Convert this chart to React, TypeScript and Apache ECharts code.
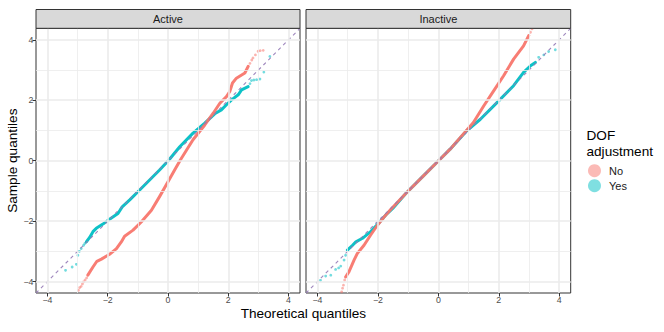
import React, { useEffect, useRef } from 'react';
import * as echarts from 'echarts';

// ---- data ----
const facets = ['Active', 'Inactive'];
const groups = ['No', 'Yes'];
const groupColors = ['#F8766D', '#00BFC4'];
const axisRange = [-4.38, 4.38];
const majorTicks = [-4, -2, 0, 2, 4];
const minorTicks = [-3, -1, 1, 3];
const refLine = [[-4.38, -4.38], [4.38, 4.38]];

// Active, No (red)
const activeNoBody = [
  [-2.66, -3.79], [-2.49, -3.52], [-2.36, -3.33], [-2.21, -3.26], [-1.94, -3.1], [-1.71, -2.91],
  [-1.55, -2.69], [-1.44, -2.5], [-1.16, -2.3], [-0.88, -2.02], [-0.55, -1.64], [-0.28, -1.19],
  [0, -0.7], [0.22, -0.31], [0.41, 0.02], [0.83, 0.69], [1.22, 1.18], [1.5, 1.57], [1.72, 1.9],
  [1.94, 2.12], [2.05, 2.29], [2.14, 2.57], [2.27, 2.73], [2.55, 2.9], [2.66, 3.12],
];
const activeNoTail = [
  [-2.97, -4.29], [-2.93, -4.2], [-2.88, -4.16], [-2.84, -4.08], [-2.8, -4.01], [-2.75, -3.95],
  [-2.7, -3.88], [2.72, 3.22], [2.78, 3.33], [2.82, 3.4], [2.9, 3.5], [2.99, 3.62], [3.06, 3.64], [3.16, 3.65],
];
// Active, Yes (cyan)
const activeYesBody = [
  [-2.71, -2.69], [-2.6, -2.54], [-2.49, -2.35], [-2.38, -2.24], [-2.16, -2.1], [-1.94, -1.94],
  [-1.66, -1.75], [-1.52, -1.53], [-1.27, -1.3], [-0.94, -0.97], [-0.61, -0.64], [-0.28, -0.31],
  [0.03, 0.02], [0.39, 0.46], [0.83, 0.91], [1.22, 1.24], [1.55, 1.55], [1.77, 1.68], [1.94, 1.85],
  [2.11, 2.01], [2.33, 2.18], [2.44, 2.34], [2.66, 2.45],
];
const activeYesTail = [
  [-3.4, -3.63], [-3.18, -3.52], [-3.04, -3.43], [-2.99, -3.13], [-2.94, -3.0], [-2.88, -2.91],
  [-2.8, -2.8], [-2.76, -2.74], [2.72, 2.55], [2.77, 2.65], [2.85, 2.67], [2.94, 2.68], [3.05, 2.7],
  [3.18, 2.93], [3.38, 3.45],
];
// Inactive, No (red)
const inactiveNoBody = [
  [-3.07, -3.85], [-2.96, -3.68], [-2.79, -3.29], [-2.68, -3.07], [-2.46, -2.8], [-2.24, -2.46],
  [-2.01, -2.13], [-1.79, -1.86], [-1.57, -1.61], [-1.07, -1.08], [-0.52, -0.53], [0.03, 0.02],
  [0.39, 0.38], [0.83, 0.88], [1.16, 1.26], [1.5, 1.81], [1.83, 2.31], [2.16, 2.81], [2.49, 3.36],
  [2.82, 3.8], [2.99, 4.14],
];
const inactiveNoTail = [
  [-3.2, -4.34], [-3.17, -4.22], [-3.14, -4.12], [-3.1, -3.95], [3.05, 4.25], [3.1, 4.36],
];
// Inactive, Yes (cyan)
const inactiveYesBody = [
  [-3.01, -2.96], [-2.84, -2.8], [-2.73, -2.69], [-2.51, -2.57], [-2.24, -2.35], [-2.01, -2.11],
  [-1.74, -1.8], [-1.51, -1.58], [-1.07, -1.08], [-0.52, -0.53], [0.03, 0.02], [0.39, 0.38],
  [0.94, 0.99], [1.39, 1.37], [1.94, 1.92], [2.49, 2.48], [2.82, 2.92], [3.05, 3.14], [3.21, 3.25],
];
const inactiveYesTail = [
  [-3.9, -3.96], [-3.73, -3.82], [-3.56, -3.79], [-3.4, -3.6], [-3.3, -3.55], [-3.23, -3.49],
  [-3.12, -3.29], [-3.07, -3.13], [3.32, 3.42], [3.49, 3.5], [3.65, 3.61], [3.87, 3.67],
];

const bodies = [
  [activeNoBody, activeYesBody],
  [inactiveNoBody, inactiveYesBody],
];
const tails = [
  [activeNoTail, activeYesTail],
  [inactiveNoTail, inactiveYesTail],
];

// ---- layout ----
const FONT = '"Liberation Sans", Arial, Helvetica, sans-serif';
const panelBoxes = [
  { left: 36, top: 28.3, width: 264, height: 264.7 },
  { left: 306, top: 28.3, width: 264.7, height: 264.7 },
];
const STRIP_TOP = 9.5;

const fmt = (v: number) => (v < 0 ? '\u2212' + Math.abs(v) : String(v));

export default function App() {
  const ref = useRef<HTMLDivElement>(null);
  useEffect(() => {
    if (!ref.current) return;
    const chart = echarts.init(ref.current, null, { renderer: 'svg' });

    const grid: any[] = [];
    const xAxis: any[] = [];
    const yAxis: any[] = [];
    panelBoxes.forEach((b, i) => {
      grid.push({ ...b, show: true, borderColor: '#333333', borderWidth: 1, backgroundColor: '#ffffff' });
      xAxis.push({
        type: 'value', gridIndex: i, min: axisRange[0], max: axisRange[1], position: 'bottom',
        axisLine: { show: false, onZero: false },
        axisTick: { show: true, length: 3.5, customValues: majorTicks, lineStyle: { color: '#333333', width: 1 } },
        axisLabel: { show: true, customValues: majorTicks, formatter: fmt, color: '#4d4d4d', fontSize: 8.8, fontFamily: FONT, margin: 2.5 },
        splitLine: { show: false },
      });
      yAxis.push({
        type: 'value', gridIndex: i, min: axisRange[0], max: axisRange[1], position: 'left',
        axisLine: { show: false, onZero: false },
        axisTick: { show: i === 0, length: 3.5, customValues: majorTicks, lineStyle: { color: '#333333', width: 1 } },
        axisLabel: { show: i === 0, customValues: majorTicks, formatter: fmt, color: '#4d4d4d', fontSize: 8.8, fontFamily: FONT, margin: 2.5 },
        splitLine: { show: false },
      });
    });

    const series: any[] = [];
    // scatter tails first (legend uses the first series of each name); cyan below red
    facets.forEach((_, f) => {
      [1, 0].forEach((g) => {
        series.push({
          type: 'scatter', name: groups[g], xAxisIndex: f, yAxisIndex: f,
          data: tails[f][g], symbol: 'circle', symbolSize: 2.8, silent: true,
          itemStyle: { color: groupColors[g], opacity: 0.55 }, z: 2,
        });
      });
    });
    facets.forEach((_, f) => {
      [1, 0].forEach((g) => {
        series.push({
          type: 'line', name: groups[g], xAxisIndex: f, yAxisIndex: f,
          data: bodies[f][g], showSymbol: false, symbol: 'none', silent: true,
          lineStyle: { color: groupColors[g], width: 3, opacity: 0.95, join: 'round', cap: 'round' },
          itemStyle: { color: groupColors[g] }, z: 3,
        });
      });
    });
    // panel grid lines (major and minor) via markLine on the library's scales
    const gridLine = (v: number, major: boolean, key: 'xAxis' | 'yAxis') => ({
      [key]: v,
      lineStyle: { color: '#ebebeb', width: major ? 1.6 : 0.8, type: 'solid', opacity: 1 },
    });
    facets.forEach((_, f) => {
      series.push({
        type: 'line', name: 'grid', xAxisIndex: f, yAxisIndex: f, data: [], silent: true, z: 1,
        markLine: {
          silent: true, symbol: ['none', 'none'], label: { show: false }, animation: false,
          emphasis: { disabled: true },
          data: [
            ...majorTicks.map((v) => gridLine(v, true, 'xAxis')),
            ...minorTicks.map((v) => gridLine(v, false, 'xAxis')),
            ...majorTicks.map((v) => gridLine(v, true, 'yAxis')),
            ...minorTicks.map((v) => gridLine(v, false, 'yAxis')),
          ],
        },
      });
      series.push({
        type: 'line', name: 'ref', xAxisIndex: f, yAxisIndex: f, data: refLine,
        showSymbol: false, symbol: 'none', silent: true,
        lineStyle: { color: '#9479b6', width: 1.1, type: [3.5, 3.5], opacity: 0.9 }, z: 4,
      });
    });

    const graphic: any[] = [];
    panelBoxes.forEach((b, i) => {
      graphic.push({
        type: 'rect', shape: { x: b.left, y: STRIP_TOP, width: b.width, height: b.top - STRIP_TOP },
        style: { fill: '#d9d9d9', stroke: '#333333', lineWidth: 1 }, z: 10,
      });
      graphic.push({
        type: 'text', x: b.left + b.width / 2, y: (STRIP_TOP + b.top) / 2 + 0.5,
        style: { text: facets[i], fontSize: 11, fontFamily: FONT, fill: '#1a1a1a', align: 'center', verticalAlign: 'middle' }, z: 11,
      });
    });
    graphic.push({
      type: 'text', x: (panelBoxes[0].left + panelBoxes[1].left + panelBoxes[1].width) / 2, y: 313.5,
      style: { text: 'Theoretical quantiles', fontSize: 13.6, fontFamily: FONT, fill: '#000000', align: 'center', verticalAlign: 'middle' },
    });
    graphic.push({
      type: 'text', x: 12, y: 160.7, rotation: Math.PI / 2,
      style: { text: 'Sample quantiles', fontSize: 13.6, fontFamily: FONT, fill: '#000000', align: 'center', verticalAlign: 'middle' },
    });
    graphic.push({
      type: 'text', x: 586.5, y: 128,
      style: { text: 'DOF\nadjustment', fontSize: 13.6, lineHeight: 15.5, fontFamily: FONT, fill: '#000000', align: 'left', verticalAlign: 'top' },
    });

    chart.setOption({
      animation: false,
      grid, xAxis, yAxis, series, graphic,
      legend: {
        orient: 'vertical', left: 588, top: 164.2, itemWidth: 13, itemHeight: 13, itemGap: 2,
        icon: 'circle', selectedMode: false, padding: 0,
        textStyle: { fontSize: 11, fontFamily: FONT, color: '#1a1a1a', padding: [0, 0, 0, 3] },
        data: groups.map((g, i) => ({ name: g, itemStyle: { color: groupColors[i], opacity: 0.5 } })),
      },
    });
    return () => chart.dispose();
  }, []);
  return <div ref={ref} style={{ position: 'fixed', left: 0, top: 0, width: 664, height: 332, background: '#fff' }} />;
}
